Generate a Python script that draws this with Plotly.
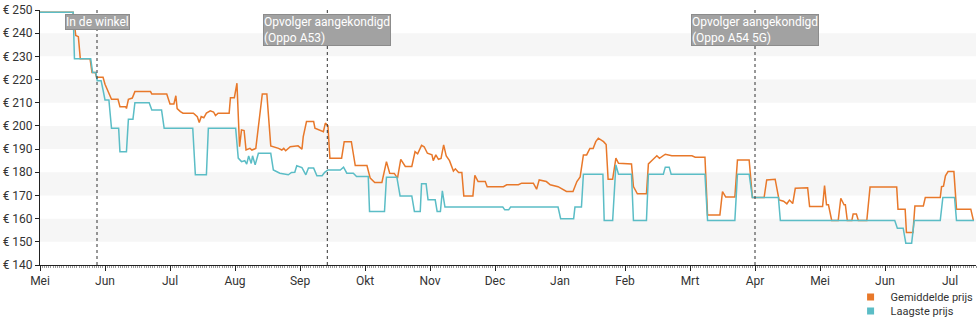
import plotly.graph_objects as go

# x = position in months since start of May 2020 (0 = Mei, 1 = Jun, ...)
avg_t = [0.00, 0.51, 0.55, 0.59, 0.62, 0.77, 0.80, 0.85, 0.87, 0.97, 1.00, 1.02, 1.05, 1.10, 1.20, 1.23, 1.32, 1.33, 1.36, 1.42,
         1.46, 1.70, 1.72, 1.95, 2.00, 2.06, 2.09, 2.11, 2.16, 2.20, 2.36, 2.42, 2.45, 2.48, 2.52, 2.56, 2.62, 2.67, 2.70, 2.74,
         2.91, 2.93, 2.99, 3.03, 3.07, 3.10, 3.14, 3.17, 3.23, 3.26, 3.32, 3.42, 3.49, 3.55, 3.67, 3.72, 3.75, 3.78, 3.85, 3.97,
         4.03, 4.05, 4.10, 4.21, 4.23, 4.36, 4.39, 4.43, 4.46, 4.64, 4.68, 4.79, 4.85, 5.03, 5.08, 5.15, 5.26, 5.33, 5.38, 5.45,
         5.50, 5.55, 5.62, 5.72, 5.77, 5.81, 5.87, 5.91, 5.96, 6.03, 6.05, 6.09, 6.13, 6.17, 6.21, 6.25, 6.30, 6.36, 6.39, 6.44,
         6.49, 6.52, 6.66, 6.69, 6.74, 6.85, 6.88, 7.13, 7.18, 7.36, 7.41, 7.59, 7.64, 7.68, 7.79, 7.85, 7.97, 8.05, 8.10, 8.20,
         8.26, 8.31, 8.36, 8.41, 8.46, 8.51, 8.55, 8.59, 8.67, 8.71, 8.74, 8.81, 8.86, 8.90, 9.10, 9.13, 9.19, 9.33, 9.36, 9.41,
         9.49, 9.53, 9.62, 9.72, 10.03, 10.08, 10.23, 10.27, 10.46, 10.50, 10.55, 10.69, 10.73, 10.91, 10.96, 11.14, 11.18, 11.31,
         11.37, 11.44, 11.49, 11.53, 11.58, 11.62, 11.81, 11.84, 12.04, 12.07, 12.10, 12.13, 12.18, 12.28, 12.32, 12.37, 12.39,
         12.42, 12.49, 12.51, 12.56, 12.59, 12.72, 12.77, 13.18, 13.20, 13.31, 13.33, 13.43, 13.46, 13.59, 13.62, 13.85, 13.87,
         13.90, 13.93, 13.97, 14.06, 14.10, 14.32, 14.36]
avg_price = [249, 249, 239, 238.5, 229, 229, 223, 223, 221, 221, 218, 216.7, 214.8, 211.5, 211.5, 208.3, 208.3, 207.5, 211.5, 212,
             214.8, 214.8, 213.8, 213.8, 209.5, 209.5, 213, 207.5, 206.2, 205.5, 205.5, 204, 201.5, 204, 203.5, 205.5, 206.5, 206, 204.5, 205.5,
             205.5, 212.2, 212.2, 218.4, 191, 198.3, 198, 189.6, 190.3, 189.6, 190.3, 213.8, 213.8, 191.4, 190.3, 189.6, 190.3, 189.3, 191, 191.4,
             190, 195.4, 201.9, 201.9, 199, 197.5, 201.2, 200, 186.1, 186.1, 193.2, 193.2, 182.9, 182.9, 177.5, 175.6, 175.6, 184.6, 179.6, 179.5,
             177.5, 185.6, 182.5, 182.5, 188.9, 188, 191.6, 191, 188.2, 187.5, 185, 187.5, 185.6, 186, 191.8, 187, 185, 180.5, 181.5, 179.9,
             179.9, 169.8, 169.8, 178.7, 176, 176, 173.8, 173.8, 174.6, 174.6, 175.3, 175.3, 172.7, 176.7, 176, 174.6, 173.8, 172.7, 171.7, 171.7,
             176, 178, 187.5, 187.5, 190.3, 190.3, 193.2, 194.7, 193.2, 192, 177, 177, 186.1, 183.9, 183.6, 173.8, 170.7, 170.7, 183.6, 185,
             187.1, 186, 187.8, 187.1, 187.1, 186.5, 186.5, 161.6, 161.6, 171.7, 169.3, 169.3, 185.3, 185.3, 169.1, 169.1, 176.7, 177,
             168.1, 167.5, 166.4, 168, 166.5, 173.1, 173.3, 165.2, 165.2, 174.3, 166, 166, 159.2, 159.2, 168.8, 166, 166,
             159.2, 159.2, 162, 162, 159.2, 159.2, 173.6, 173.6, 164.1, 164.1, 154, 154, 165.5, 165.5, 169.1, 169.1, 173.8,
             174, 178.5, 180.3, 180.3, 164.1, 164.1, 159.2]

low_t = [0.00, 0.51, 0.53, 0.78, 0.81, 0.86, 0.88, 0.94, 0.97, 1.00, 1.06, 1.10, 1.21, 1.23, 1.33, 1.36, 1.43, 1.46, 1.68, 1.72,
         1.87, 1.91, 2.35, 2.39, 2.56, 2.59, 3.01, 3.05, 3.10, 3.15, 3.18, 3.21, 3.25, 3.27, 3.31, 3.36, 3.55, 3.59, 3.69, 3.82,
         3.87, 3.92, 3.95, 4.03, 4.09, 4.13, 4.21, 4.26, 4.34, 4.38, 4.43, 4.62, 4.67, 4.72, 4.82, 4.87, 5.05, 5.07, 5.30, 5.33,
         5.49, 5.54, 5.72, 5.76, 5.85, 5.87, 5.94, 5.97, 6.08, 6.11, 6.16, 6.19, 6.23, 7.12, 7.15, 7.21, 7.24, 7.97, 8.01, 8.21,
         8.23, 8.33, 8.36, 8.66, 8.68, 8.81, 8.86, 8.90, 9.10, 9.13, 9.33, 9.36, 9.59, 9.62, 9.68, 9.71, 10.23, 10.27, 10.69, 10.73,
         10.91, 10.96, 11.36, 11.39, 13.15, 13.19, 13.28, 13.32, 13.41, 13.45, 13.85, 13.89, 14.07, 14.10, 14.37]
low_price = [249, 249, 229, 229, 223, 223, 219.5, 219.5, 215.5, 211.2, 211.2, 199, 199, 188.9, 188.9, 202.9, 202.9, 210, 210, 206.9,
             206.9, 199, 199, 178.9, 178.9, 199, 199, 186.1, 184.6, 185, 183.5, 187, 183.8, 187.1, 183.2, 188.2, 188.2, 181, 179.6, 178.9,
             179.9, 180, 182.8, 182, 178.9, 181.8, 181.8, 178.5, 178.5, 180, 181, 181, 182.2, 179.6, 179.6, 178.2, 178.2, 163.1, 163.1, 177.9,
             177.9, 169.8, 169.8, 163.1, 163.1, 175, 175, 168.1, 168.1, 163.1, 163.1, 172, 165, 165, 163.8, 163.8, 165, 165, 160, 160,
             165, 165, 179.2, 179.2, 159.2, 159.2, 183.2, 179.2, 179.2, 159.2, 159.2, 179.2, 179.2, 182.2, 182.2, 179.2, 179.2, 159.2, 159.2, 179.2,
             179.2, 169.1, 169.1, 159.2, 159.2, 155.9, 155.9, 149.4, 149.4, 159.2, 159.2, 169.1, 169.1, 159.2, 159.2]

month_labels = ["Mei", "Jun", "Jul", "Aug", "Sep", "Okt", "Nov", "Dec", "Jan", "Feb", "Mrt", "Apr", "Mei", "Jun", "Jul"]
y_ticks = [140, 150, 160, 170, 180, 190, 200, 210, 220, 230, 240, 250]
bands = [(150, 160), (170, 180), (190, 200), (210, 220), (230, 240)]

events_t = [0.877, 4.42, 11.0]
events_text = ["In de winkel", "Opvolger aangekondigd<br>(Oppo A53)", "Opvolger aangekondigd<br>(Oppo A54 5G)"]

series_names = ["Gemiddelde prijs", "Laagste prijs"]
colors = ["#e8782a", "#5bbdc6"]

FONT = "Roboto, 'Open Sans', sans-serif"

fig = go.Figure()
fig.add_trace(go.Scatter(x=avg_t, y=avg_price, mode="lines", line=dict(color=colors[0], width=1.5),
                         showlegend=False, hoverinfo="skip"))
fig.add_trace(go.Scatter(x=low_t, y=low_price, mode="lines", line=dict(color=colors[1], width=1.5),
                         showlegend=False, hoverinfo="skip"))
legend_ids = ["legend", "legend2"]
for name, c, lg in zip(series_names, colors, legend_ids):
    fig.add_trace(go.Scatter(x=[None], y=[None], mode="markers", name=name, legend=lg,
                             marker=dict(symbol="square", size=7, color=c)))

shapes = []
for y0, y1 in bands:
    shapes.append(dict(type="rect", xref="paper", yref="y", x0=0, x1=1, y0=y0, y1=y1,
                       fillcolor="#f6f6f6", line=dict(width=0), layer="below"))
for t in events_t:
    shapes.append(dict(type="line", xref="x", yref="y", x0=t, x1=t, y0=140, y1=250,
                       line=dict(color="#333333", width=1, dash="dot")))

annotations = []
for t, txt in zip(events_t, events_text):
    annotations.append(dict(x=t, xref="x", y=0.985, yref="paper", text=txt, showarrow=False,
                            xanchor="center", yanchor="top", align="left",
                            font=dict(family=FONT, size=12, color="#ffffff"),
                            bgcolor="#a2a2a2", bordercolor="#8c8c8c", borderwidth=1, borderpad=0))

legend_style = dict(x=0.866, xanchor="left", yanchor="middle", bgcolor="rgba(0,0,0,0)",
                    font=dict(family=FONT, size=11, color="#333333"), itemwidth=30)

fig.update_layout(
    width=980, height=325,
    margin=dict(l=40, r=4, t=10, b=60, autoexpand=False),
    paper_bgcolor="white", plot_bgcolor="white",
    font=dict(family=FONT, size=12, color="#333333"),
    shapes=shapes, annotations=annotations,
    showlegend=True,
    legend=dict(y=-0.125, **legend_style),
    legend2=dict(y=-0.18, **legend_style),
    xaxis=dict(range=[0, 14.4], tickmode="array", tickvals=list(range(len(month_labels))),
               ticktext=month_labels, showgrid=False, zeroline=False,
               showline=True, linecolor="#222222", linewidth=1,
               ticks="outside", ticklen=5, tickcolor="#222222",
               minor=dict(dtick=1 / 30, ticklen=2, tickcolor="#999999", ticks="outside", showgrid=False),
               tickfont=dict(family=FONT, size=12, color="#333333")),
    yaxis=dict(range=[140, 250], tickmode="array", tickvals=y_ticks,
               ticktext=["€ %d" % v for v in y_ticks], showgrid=False, zeroline=False,
               showline=True, linecolor="#222222", linewidth=1,
               ticks="outside", ticklen=4, tickcolor="#222222",
               tickfont=dict(family=FONT, size=12, color="#333333")),
)

fig.write_html("out.html")
